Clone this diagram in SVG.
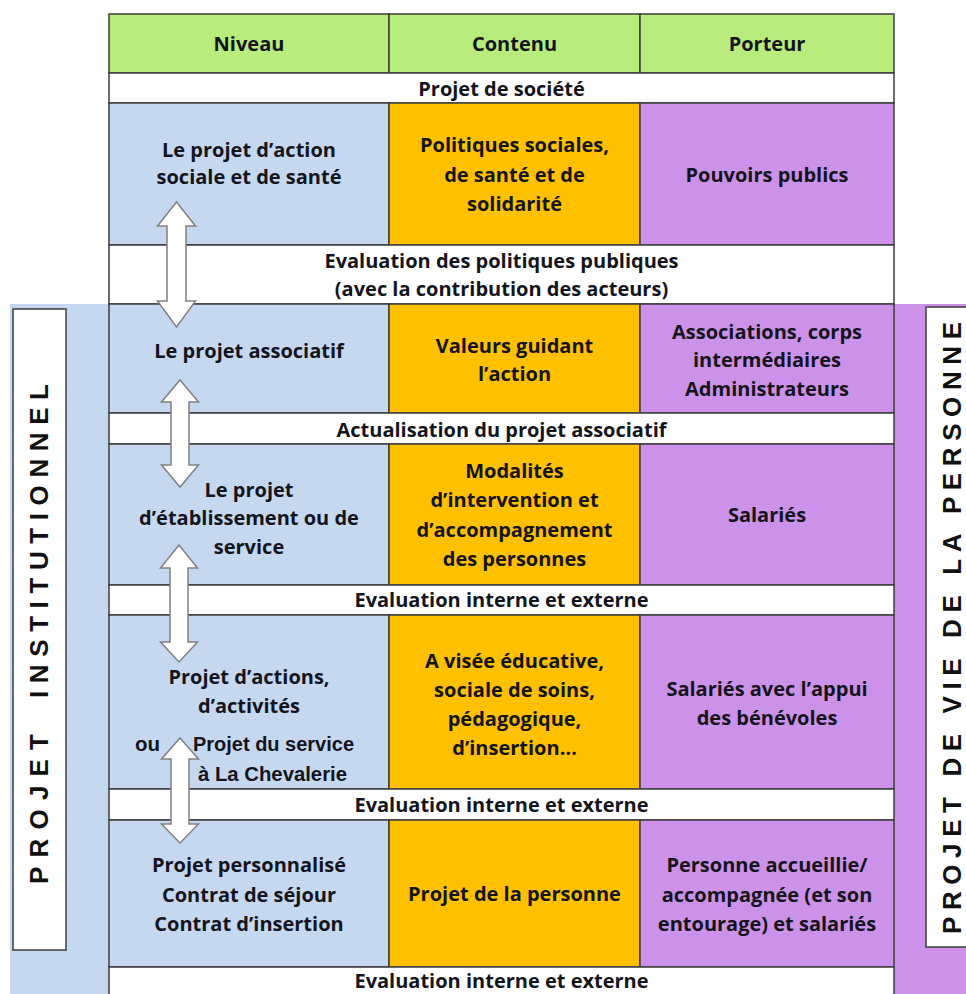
<svg xmlns="http://www.w3.org/2000/svg" width="966" height="994" viewBox="0 0 966 994">
<style>
.t{font-family:"Open Sans",Lato,"Liberation Sans",sans-serif;font-weight:700;font-size:20px;fill:#14141c;text-anchor:middle}
.a{font-family:"Liberation Sans",Arial,sans-serif;font-weight:bold;font-size:20px;fill:#14141c}
.v{font-family:"Liberation Sans",Arial,sans-serif;font-weight:bold;font-size:26px;fill:#111;text-anchor:middle}
.g{fill:#b8ec7c;stroke:#3c3c3c;stroke-width:1.5}
.b{fill:#c5d8f0;stroke:#3c3c3c;stroke-width:1.5}
.o{fill:#ffc000;stroke:#3c3c3c;stroke-width:1.5}
.p{fill:#cc92e9;stroke:#3c3c3c;stroke-width:1.5}
.w{fill:#ffffff;stroke:#3c3c3c;stroke-width:1.5}
.arr{fill:#ffffff;stroke:#808080;stroke-width:1.5;stroke-linejoin:miter}
</style>
<rect x="0" y="0" width="966" height="994" fill="#ffffff"/>
<g id="side-bands">
<rect x="10" y="304" width="99" height="690" fill="#c5d8f0"/>
<rect x="894" y="304" width="72" height="690" fill="#cc92e9"/>
</g>
<g id="projet-institutionnel">
<rect x="13" y="309" width="53" height="641" fill="#ffffff" stroke="#3c3c3c" stroke-width="1.5"/>
<text class="v" x="48" y="809" transform="rotate(-90 48 809)" textLength="150" lengthAdjust="spacing">PROJET</text>
<text class="v" x="48" y="541" transform="rotate(-90 48 541)" textLength="314" lengthAdjust="spacing">INSTITUTIONNEL</text>
</g>
<g id="projet-de-vie">
<rect x="926" y="307" width="45" height="640" fill="#ffffff" stroke="#3c3c3c" stroke-width="1.5"/>
<text class="v" x="961" y="628" transform="rotate(-90 961 628)" textLength="612" lengthAdjust="spacing">PROJET DE VIE DE LA PERSONNE</text>
</g>
<g id="header">
<rect class="g" x="109" y="14" width="280" height="59"/>
<rect class="g" x="389" y="14" width="251" height="59"/>
<rect class="g" x="640" y="14" width="254" height="59"/>
<text class="t" x="249" y="51">Niveau</text>
<text class="t" x="514.5" y="51">Contenu</text>
<text class="t" x="767" y="51">Porteur</text>
</g>
<g id="row-societe">
<rect class="w" x="109" y="73" width="785" height="30"/>
<text class="t" x="501.5" y="96">Projet de société</text>
</g>
<g id="row1">
<rect class="b" x="109" y="103" width="280" height="142"/>
<rect class="o" x="389" y="103" width="251" height="142"/>
<rect class="p" x="640" y="103" width="254" height="142"/>
<text class="t" x="249" y="157">Le projet d’action</text>
<text class="t" x="249" y="184">sociale et de santé</text>
<text class="t" x="514.5" y="152">Politiques sociales,</text>
<text class="t" x="514.5" y="181.5">de santé et de</text>
<text class="t" x="514.5" y="211">solidarité</text>
<text class="t" x="767" y="182">Pouvoirs publics</text>
</g>
<g id="eval-politiques">
<rect class="w" x="109" y="245" width="785" height="59"/>
<text class="t" x="501.5" y="268">Evaluation des politiques publiques</text>
<text class="t" x="501.5" y="296">(avec la contribution des acteurs)</text>
</g>
<g id="row2">
<rect class="b" x="109" y="304" width="280" height="109"/>
<rect class="o" x="389" y="304" width="251" height="109"/>
<rect class="p" x="640" y="304" width="254" height="109"/>
<text class="t" x="249" y="358">Le projet associatif</text>
<text class="t" x="514.5" y="353">Valeurs guidant</text>
<text class="t" x="514.5" y="381">l’action</text>
<text class="t" x="767" y="339">Associations, corps</text>
<text class="t" x="767" y="367">intermédiaires</text>
<text class="t" x="767" y="396">Administrateurs</text>
</g>
<g id="actualisation">
<rect class="w" x="109" y="413" width="785" height="31"/>
<text class="t" x="501.5" y="437">Actualisation du projet associatif</text>
</g>
<g id="row3">
<rect class="b" x="109" y="444" width="280" height="141"/>
<rect class="o" x="389" y="444" width="251" height="141"/>
<rect class="p" x="640" y="444" width="254" height="141"/>
<text class="t" x="249" y="497">Le projet</text>
<text class="t" x="249" y="525">d’établissement ou de</text>
<text class="t" x="249" y="554">service</text>
<text class="t" x="514.5" y="478">Modalités</text>
<text class="t" x="514.5" y="507">d’intervention et</text>
<text class="t" x="514.5" y="537">d’accompagnement</text>
<text class="t" x="514.5" y="566">des personnes</text>
<text class="t" x="767" y="522">Salariés</text>
</g>
<g id="eval-1">
<rect class="w" x="109" y="585" width="785" height="30"/>
<text class="t" x="501.5" y="607">Evaluation interne et externe</text>
</g>
<g id="row4">
<rect class="b" x="109" y="615" width="280" height="174"/>
<rect class="o" x="389" y="615" width="251" height="174"/>
<rect class="p" x="640" y="615" width="254" height="174"/>
<text class="t" x="249" y="684">Projet d’actions,</text>
<text class="t" x="249" y="713">d’activités</text>
<text class="a" x="135" y="751" textLength="25" lengthAdjust="spacingAndGlyphs">ou</text>
<text class="a" x="193" y="751" textLength="161" lengthAdjust="spacingAndGlyphs">Projet du service</text>
<text class="a" x="198" y="781" textLength="149" lengthAdjust="spacingAndGlyphs">à La Chevalerie</text>
<text class="t" x="514.5" y="668">A visée éducative,</text>
<text class="t" x="514.5" y="697">sociale de soins,</text>
<text class="t" x="514.5" y="726">pédagogique,</text>
<text class="t" x="514.5" y="755">d’insertion…</text>
<text class="t" x="767" y="696">Salariés avec l’appui</text>
<text class="t" x="767" y="725">des bénévoles</text>
</g>
<g id="eval-2">
<rect class="w" x="109" y="789" width="785" height="31"/>
<text class="t" x="501.5" y="812">Evaluation interne et externe</text>
</g>
<g id="row5">
<rect class="b" x="109" y="820" width="280" height="147"/>
<rect class="o" x="389" y="820" width="251" height="147"/>
<rect class="p" x="640" y="820" width="254" height="147"/>
<text class="t" x="249" y="872">Projet personnalisé</text>
<text class="t" x="249" y="902">Contrat de séjour</text>
<text class="t" x="249" y="931">Contrat d’insertion</text>
<text class="t" x="514.5" y="901">Projet de la personne</text>
<text class="t" x="767" y="872">Personne accueillie/</text>
<text class="t" x="767" y="902">accompagnée (et son</text>
<text class="t" x="767" y="931">entourage) et salariés</text>
</g>
<g id="eval-3">
<rect class="w" x="109" y="967" width="785" height="30"/>
<text class="t" x="501.5" y="988">Evaluation interne et externe</text>
</g>
<g id="connectors">
<path class="arr" d="M176.5,202 L195.5,226 L186,226 L186,301 L195.5,301 L176.5,327 L157.5,301 L167,301 L167,226 L157.5,226 Z"/>
<path class="arr" d="M180,380 L198.5,402 L189,402 L189,465 L198.5,465 L180,487 L161.5,465 L171,465 L171,402 L161.5,402 Z"/>
<path class="arr" d="M179,545 L197.5,568 L188,568 L188,642 L197.5,642 L179,662 L160.5,642 L170,642 L170,568 L160.5,568 Z"/>
<path class="arr" d="M180,738 L198.5,759 L189,759 L189,824 L198.5,824 L180,843 L161.5,824 L171,824 L171,759 L161.5,759 Z"/>
</g>
</svg>
